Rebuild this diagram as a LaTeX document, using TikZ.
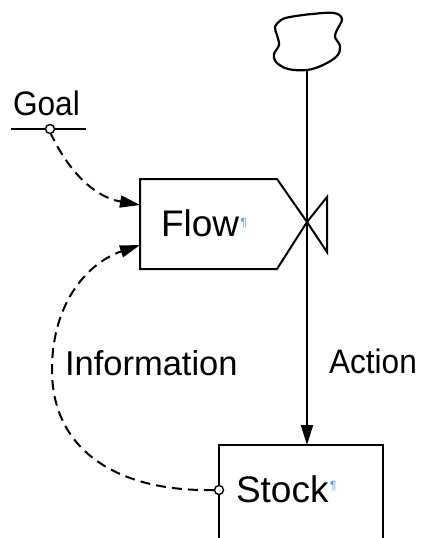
\documentclass[tikz,border=0pt]{standalone}
\usepackage{fontspec}
\setmainfont{Liberation Sans}
\newfontfamily\lblfont[FakeStretch=0.93]{Liberation Sans}
\usetikzlibrary{arrows.meta}
\definecolor{pilcrow}{HTML}{5A9BE0}
% small paragraph mark after the box titles
\newcommand{\pmark}[1]{\hspace{1.5pt}\raisebox{#1}{\fontsize{12}{12}\selectfont\color{pilcrow}¶}}

\begin{document}
\begin{tikzpicture}[x=1pt, y=-1pt, line width=2pt,
  title/.style={font=\fontsize{37}{40}\selectfont, inner sep=0pt, anchor=base west},
  lbl/.style={font=\lblfont\fontsize{34}{38}\selectfont, inner sep=0pt, anchor=base west},
  infolbl/.style={font=\fontsize{34.5}{38}\selectfont, inner sep=0pt, anchor=base west},
  info/.style={dash pattern=on 10pt off 6pt},
  tip/.style={-{Triangle[length=20pt,width=12pt]}},
  pin/.style={circle, draw, fill=white, inner sep=0pt, minimum size=9pt, line width=1.4pt}]
\clip (0,0) rectangle (422,538);

% source cloud
\draw[line width=2.2pt] plot[smooth cycle, tension=0.6] coordinates {
  (290,17) (312,14) (334,13) (342,19) (337,30) (335,37) (340,46) (337,56)
  (323,65) (307,70) (288,69) (276,62) (274,54) (279,45) (277,35) (275,27) (281,20)};
\coordinate (src) at (307,70);

% stock box (runs past the lower edge)
\draw (219,445) rectangle (383,560);
\coordinate (stocktop) at (307,445);
\node[title] (stock) at (235,502) {Stock\pmark{13pt}};

% flow box with its valve
\draw (277,179) -- (140,179) -- (140,269) -- (277,269) -- (307,222) -- cycle;
\coordinate (valve) at (307,222);
\draw (valve) -- (327,197) -- (327,252) -- cycle;
\node[title] (flow) at (160,236) {Flow\pmark{10pt}};
\coordinate (flowin1) at (140,205);
\coordinate (flowin2) at (140,245);

% material flow
\draw[tip] (src) -- (stocktop);
\node[lbl] (action) at (328,373) {Action};

% goal
\node[lbl] (goal) at (12,115) {Goal};
\coordinate (goalL) at (11,129);
\coordinate (goalR) at (86,129);
\draw (goalL) -- (goalR);
\draw[info, tip] (50,132) to[out=-65, in=170] (flowin1);
\node[pin] (goalpt) at (50,129) {};

% information feedback
\node[pin] (stockpin) at (219,490) {};
\draw[info, tip] (stockpin.west) .. controls (120,492) and (52,452) .. (52,370)
  .. controls (52,300) and (90,262) .. (flowin2);
\node[infolbl] (information) at (64,375) {Information};
\end{tikzpicture}
\end{document}
